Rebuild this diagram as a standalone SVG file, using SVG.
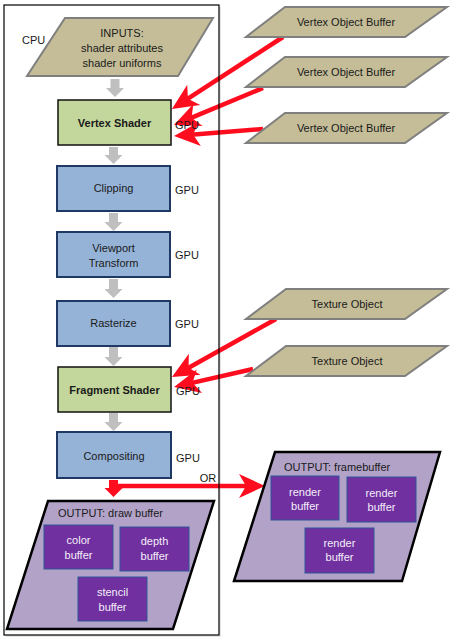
<svg xmlns="http://www.w3.org/2000/svg" width="457" height="641" viewBox="0 0 457 641">
<style>
text{font-family:"Liberation Sans",Arial,sans-serif;font-size:11px;fill:#1a1a1a}
.c{text-anchor:middle}
.b{font-weight:bold}
.w{fill:#f4eef8}
.tan{fill:#c4bd97;stroke:#7f7f7f;stroke-width:2}
.green{fill:#c3d69b;stroke:#111;stroke-width:1.5}
.blue{fill:#95b3d7;stroke:#1f3864;stroke-width:2}
.lav{fill:#b3a2c7;stroke:#000;stroke-width:2.5}
.pur{fill:#7030a0;stroke:#2f5597;stroke-width:1}
.gray{fill:#bfbfbf}
.red{stroke:#ff0d1f;stroke-width:4.5;fill:none}
</style>
<defs>
<marker id="ah" markerUnits="userSpaceOnUse" viewBox="-16 -14 34 28" markerWidth="34" markerHeight="28" refX="0" refY="0" orient="auto" overflow="visible">
<path d="M14,0 L-12,-12 L-5,0 L-12,12 Z" fill="#ff0d1f"/>
</marker>
</defs>
<rect x="6" y="7" width="215" height="630" fill="#e6e6e6"/>
<rect x="4" y="5" width="215" height="630" fill="#fff"/>

<g id="connectors">
<path class="gray" d="M110.5,79 h9 v9 h4.5 l-9,9 l-9,-9 h4.5 z"/>
<path class="gray" d="M109,147 h9 v8 h4.5 l-9,9 l-9,-9 h4.5 z"/>
<path class="gray" d="M109,213 h9 v9 h4.5 l-9,9 l-9,-9 h4.5 z"/>
<path class="gray" d="M109,279 h9 v10 h4.5 l-9,9 l-9,-9 h4.5 z"/>
<path class="gray" d="M109,347 h9 v10 h4.5 l-9,9 l-9,-9 h4.5 z"/>
<path class="gray" d="M109,413 h9 v9 h4.5 l-9,9 l-9,-9 h4.5 z"/>
<path fill="#ff0d1f" d="M109,480 h9 v8 h4.5 l-9,9 l-9,-9 h4.5 z"/>
<line class="red" x1="113" y1="486" x2="251" y2="486" marker-end="url(#ah)"/>
<line class="red" x1="283" y1="37" x2="183.7" y2="101.4" marker-end="url(#ah)"/>
<line class="red" x1="263" y1="88" x2="186.9" y2="119.6" marker-end="url(#ah)"/>
<line class="red" x1="263" y1="129" x2="188" y2="134.9" marker-end="url(#ah)"/>
<line class="red" x1="276" y1="319" x2="184.2" y2="370.2" marker-end="url(#ah)"/>
<line class="red" x1="253" y1="369" x2="187.7" y2="383.9" marker-end="url(#ah)"/>
<text class="c" x="208" y="482">OR</text>
</g>

<g id="inputs">
<polygon class="tan" points="65,18 213,18 178,76 27,76"/>
<text class="c" x="122" y="37">INPUTS:</text>
<text class="c" x="122" y="52">shader attributes</text>
<text class="c" x="122" y="67">shader uniforms</text>
<text x="22" y="44">CPU</text>
</g>

<g id="vob1">
<polygon class="tan" points="285,7 447,7 405,37 246,37"/>
<text class="c" x="346" y="26">Vertex Object Buffer</text>
</g>
<g id="vob2">
<polygon class="tan" points="285,57 447,57 405,87 246,87"/>
<text class="c" x="346" y="76">Vertex Object Buffer</text>
</g>
<g id="vob3">
<polygon class="tan" points="285,113 447,113 405,143 246,143"/>
<text class="c" x="346" y="132">Vertex Object Buffer</text>
</g>
<g id="tex1">
<polygon class="tan" points="286,289 447,289 405,319 246,319"/>
<text class="c" x="347" y="308">Texture Object</text>
</g>
<g id="tex2">
<polygon class="tan" points="286,346 447,346 405,376 246,376"/>
<text class="c" x="347" y="365">Texture Object</text>
</g>

<g id="vertex-shader">
<rect class="green" x="58" y="100" width="113" height="45"/>
<text class="c b" x="114.5" y="127">Vertex Shader</text>
<text x="175" y="129">GPU</text>
</g>
<g id="clipping">
<rect class="blue" x="57" y="166" width="113" height="45"/>
<text class="c" x="113.5" y="192">Clipping</text>
<text x="175" y="194">GPU</text>
</g>
<g id="viewport">
<rect class="blue" x="57" y="232" width="113" height="45"/>
<text class="c" x="113.5" y="252">Viewport</text>
<text class="c" x="113.5" y="267">Transform</text>
<text x="175" y="259">GPU</text>
</g>
<g id="rasterize">
<rect class="blue" x="57" y="301" width="113" height="45"/>
<text class="c" x="113.5" y="327">Rasterize</text>
<text x="175" y="328">GPU</text>
</g>
<g id="fragment-shader">
<rect class="green" x="58" y="367" width="113" height="45"/>
<text class="c b" x="114.5" y="394">Fragment Shader</text>
<text x="176" y="395">GPU</text>
</g>
<g id="compositing">
<rect class="blue" x="57" y="432" width="114" height="46"/>
<text class="c" x="114" y="460">Compositing</text>
<text x="176" y="462">GPU</text>
</g>

<g id="draw-buffer">
<polygon class="lav" points="48,501 214,501 173,629 7,629"/>
<text x="58" y="517">OUTPUT: draw buffer</text>
<rect class="pur" x="44" y="525" width="69" height="44"/>
<text class="c w" x="78.5" y="544">color</text>
<text class="c w" x="78.5" y="559">buffer</text>
<rect class="pur" x="120" y="527" width="69" height="44"/>
<text class="c w" x="154.5" y="545">depth</text>
<text class="c w" x="154.5" y="560">buffer</text>
<rect class="pur" x="78" y="577" width="69" height="44"/>
<text class="c w" x="112.5" y="596">stencil</text>
<text class="c w" x="112.5" y="611">buffer</text>
</g>

<g id="framebuffer">
<polygon class="lav" points="275,452 440,452 402,581 234,581"/>
<text x="284" y="471">OUTPUT: framebuffer</text>
<rect class="pur" x="271" y="476" width="68" height="44"/>
<text class="c w" x="305" y="496">render</text>
<text class="c w" x="305" y="510">buffer</text>
<rect class="pur" x="347" y="477" width="69" height="45"/>
<text class="c w" x="381.5" y="497">render</text>
<text class="c w" x="381.5" y="511">buffer</text>
<rect class="pur" x="305" y="528" width="69" height="45"/>
<text class="c w" x="339.5" y="547">render</text>
<text class="c w" x="339.5" y="561">buffer</text>
</g>

<rect x="4" y="5" width="215" height="630" fill="none" stroke="#000" stroke-width="1.2"/>
</svg>
